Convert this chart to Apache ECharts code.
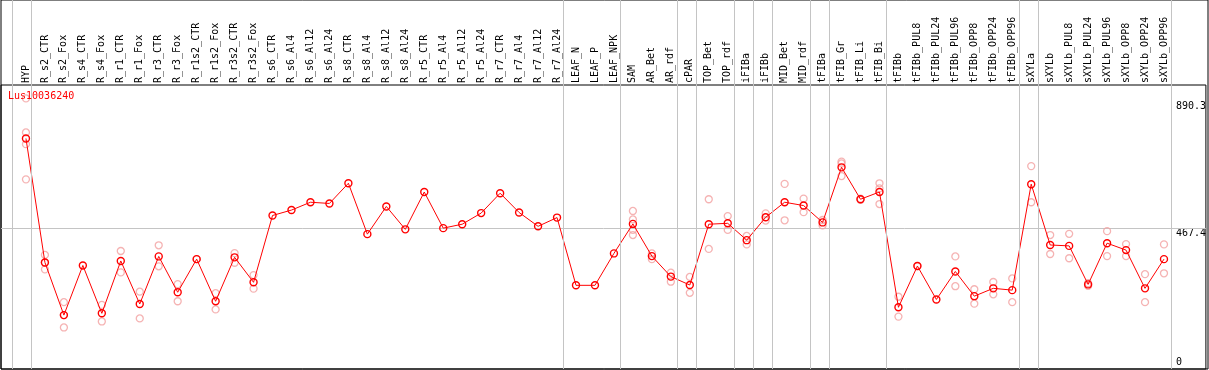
<!DOCTYPE html>
<html>
<head>
<meta charset="utf-8">
<script src="https://cdn.jsdelivr.net/npm/echarts@6/dist/echarts.min.js"></script>
<style>
html,body{margin:0;padding:0;background:#fff;}
#c{width:1209px;height:370px;}
</style>
</head>
<body>
<div id="c"></div>
<script>
var geneName = 'Lus10036240';
var categories = ['HYP','R_s2_CTR','R_s2_Fox','R_s4_CTR','R_s4_Fox','R_r1_CTR','R_r1_Fox','R_r3_CTR','R_r3_Fox','R_r1s2_CTR','R_r1s2_Fox','R_r3s2_CTR','R_r3s2_Fox','R_s6_CTR','R_s6_Al4','R_s6_Al12','R_s6_Al24','R_s8_CTR','R_s8_Al4','R_s8_Al12','R_s8_Al24','R_r5_CTR','R_r5_Al4','R_r5_Al12','R_r5_Al24','R_r7_CTR','R_r7_Al4','R_r7_Al12','R_r7_Al24','LEAF_N','LEAF_P','LEAF_NPK','SAM','AR_Bet','AR_rdf','cPAR','TOP_Bet','TOP_rdf','iFIBa','iFIBb','MID_Bet','MID_rdf','tFIBa','tFIB_Gr','tFIB_Li','tFIB_Bi','tFIBb','tFIBb_PUL8','tFIBb_PUL24','tFIBb_PUL96','tFIBb_OPP8','tFIBb_OPP24','tFIBb_OPP96','sXYLa','sXYLb','sXYLb_PUL8','sXYLb_PUL24','sXYLb_PUL96','sXYLb_OPP8','sXYLb_OPP24','sXYLb_OPP96'];
var meanValues = [766,354,179,344,185,359,216,374,255,365,225,371,288,510,528,554,550,617,448,540,464,588,468,481,518,584,520,474,503,278,278,384,482,375,307,279,481,484,428,504,554,543,487,670,564,588,205,342,231,324,242,268,262,614,412,409,281,418,395,268,365];
var replicateValues = [[899,786,747,630],[379,354,331],[222,179,138],[],[213,158],[392,321],[257,168],[411,341],[282,225],[365],[252,198],[385,353],[312,267],[],[],[],[],[],[],[],[],[],[],[],[],[],[],[],[],[],[],[],[525,497,462,445],[384,365],[320,290],[306,253],[564,399],[508,462],[442,414],[517,493],[615,494],[566,521],[495,477],[689,683,641],[566,562],[617,600,548],[240,174],[342],[],[374,275],[265,217],[289,248],[301,222],[674,554],[445,382],[449,368],[285,276],[458,375],[415,375],[315,222],[414,318]];
var yTickLabels = [0, 467.4, 890.3];
var groupEnds = [-1,0,28,31,34,35,37,38,39,41,42,45,52,53,60];

var X_MIN = -1.3158, X_MAX = 62.21, Y_MAX = 943.5;
var font = 'DejaVu Sans Mono';
var gray = '#c4c4c4';

var mainData = meanValues.map(function(v,i){return [i,v];});
var repData = [];
replicateValues.forEach(function(arr,i){arr.forEach(function(v){repData.push([i,v]);});});
var idx = categories.map(function(c,i){return i;});

var chart = echarts.init(document.getElementById('c'), null, {renderer:'canvas'});
chart.setOption({
  animation:false,
  title:{text:geneName,left:8,top:91,padding:0,textStyle:{color:'#ff0000',fontSize:10,fontWeight:'normal',fontFamily:font}},
  grid:[
    {left:1,right:1,top:0,bottom:1,show:true,borderColor:'#000',borderWidth:1,backgroundColor:'transparent'},
    {left:1,right:1,top:85,bottom:1,show:true,borderColor:'#000',borderWidth:1,backgroundColor:'transparent'}
  ],
  xAxis:[
    {gridIndex:0,type:'value',min:X_MIN,max:X_MAX,show:false},
    {gridIndex:1,type:'value',min:X_MIN,max:X_MAX,position:'top',
     axisLine:{show:false},axisTick:{show:false},splitLine:{show:false},
     axisLabel:{customValues:idx,rotate:90,margin:2,fontSize:10,fontFamily:font,color:'#000',
       formatter:function(v){return categories[Math.round(v)];}}}
  ],
  yAxis:[
    {gridIndex:0,type:'value',min:0,max:1,show:false},
    {gridIndex:1,type:'value',min:0,max:Y_MAX,position:'right',
     axisLine:{show:false},axisTick:{show:false},splitLine:{show:false},
     axisLabel:{inside:true,customValues:yTickLabels.slice(1),margin:30,align:'left',verticalAlign:'top',fontSize:10,fontFamily:font,color:'#000',
       formatter:function(v){return String(v);}}},
    {gridIndex:1,type:'value',min:0,max:Y_MAX,position:'right',
     axisLine:{show:false},axisTick:{show:false},splitLine:{show:false},
     axisLabel:{inside:true,customValues:yTickLabels.slice(0,1),margin:30,align:'left',verticalAlign:'bottom',lineHeight:14,fontSize:10,fontFamily:font,color:'#000',
       formatter:function(v){return String(v);}}}
  ],
  series:[
    {type:'line',xAxisIndex:0,yAxisIndex:0,data:[],silent:true,
     markLine:{silent:true,symbol:['none','none'],label:{show:false},animation:false,
       lineStyle:{color:gray,type:'solid',width:1},
       data:groupEnds.map(function(g){return {xAxis:g+0.25};})}},
    {type:'scatter',xAxisIndex:1,yAxisIndex:1,data:repData,symbol:'circle',symbolSize:7,z:2,silent:true,
     itemStyle:{color:'rgba(0,0,0,0)',borderColor:'#f2a0a0',borderWidth:1.3}},
    {type:'line',xAxisIndex:1,yAxisIndex:1,data:mainData,symbol:'circle',symbolSize:7,z:3,silent:true,
     lineStyle:{color:'#ff0000',width:1},
     itemStyle:{color:'rgba(0,0,0,0)',borderColor:'#ff0000',borderWidth:1.4},
     markLine:{silent:true,symbol:['none','none'],label:{show:false},animation:false,z:1,
       lineStyle:{color:gray,type:'solid',width:1},
       data:[{yAxis:yTickLabels[1]}]}}
  ]
});
</script>
</body>
</html>
